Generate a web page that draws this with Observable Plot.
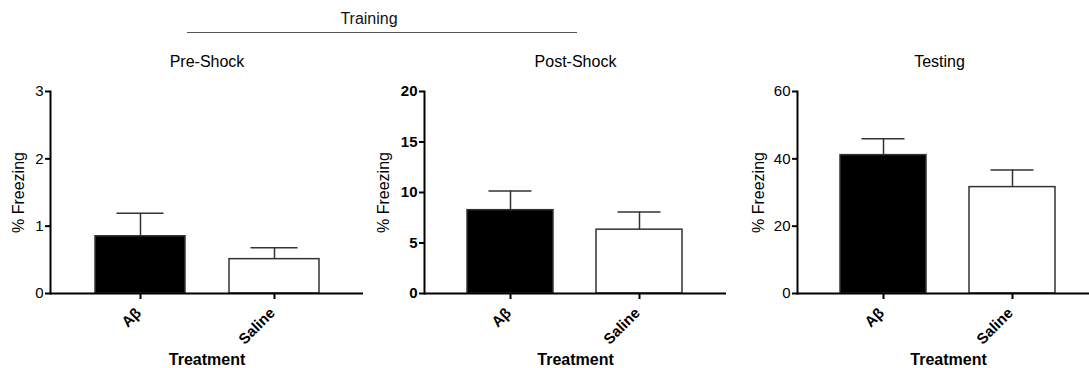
<!DOCTYPE html>
<html>
<head>
<meta charset="utf-8">
<script src="https://cdn.jsdelivr.net/npm/d3@7"></script>
<script src="https://cdn.jsdelivr.net/npm/@observablehq/plot@0.6"></script>
<style>
  html, body { margin: 0; padding: 0; background: #fff; }
  #wrap { position: relative; width: 1089px; height: 368px; overflow: hidden; font-family: "Liberation Sans", Arial, sans-serif; }
  .panel { position: absolute; top: 0; }
  #training { position: absolute; top: 11px; left: 369px; transform: translateX(-50%); font-size: 16px; line-height: 16px; color: #111; }
  #tline { position: absolute; top: 32px; left: 187px; width: 390px; height: 0; border-top: 1.5px solid #555; }
</style>
</head>
<body>
<div id="wrap">
  <div id="training">Training</div>
  <div id="tline"></div>
</div>
<script>
const groups = ["Aβ", "Saline"];
const panelTitles = ["Pre-Shock", "Post-Shock", "Testing"];
const preShockMean = [0.85, 0.51];
const preShockSem = [0.34, 0.17];
const postShockMean = [8.25, 6.32];
const postShockSem = [1.9, 1.75];
const testingMean = [41.1, 31.6];
const testingSem = [4.9, 5.1];
const yMax = [3, 20, 60];
const yTicks = [[0, 1, 2, 3], [0, 5, 10, 15, 20], [0, 20, 40, 60]];
const yLabel = "% Freezing";
const xLabel = "Treatment";

const means = [preShockMean, postShockMean, testingMean];
const sems = [preShockSem, postShockSem, testingSem];

const layout = [
  {left: 0, width: 363, marginLeft: 50, labelDx: -32, boldY: false, titleDx: 0},
  {left: 363, width: 363, marginLeft: 61, labelDx: -41, boldY: true, titleDx: 0},
  {left: 726, width: 373, marginLeft: 71, labelDx: -39, boldY: false, titleDx: -9}
];

const wrap = document.getElementById("wrap");

layout.forEach((L, i) => {
  const data = groups.map((g, j) => ({group: g, mean: means[i][j], sem: sems[i][j]}));
  const chart = Plot.plot({
    width: L.width,
    height: 368,
    marginTop: 91,
    marginBottom: 75,
    marginLeft: L.marginLeft,
    marginRight: 0,
    style: {fontFamily: "'Liberation Sans', Arial, sans-serif", fontSize: "15px", color: "#000", background: "transparent", overflow: "visible"},
    x: {domain: groups, padding: 0.33, label: null},
    y: {domain: [0, yMax[i]], label: null},
    color: {domain: groups, range: ["#000", "#fff"]},
    marks: [
      Plot.barY(data, {x: "group", y: "mean", fill: "group", stroke: "#333", strokeWidth: 1.5}),
      Plot.ruleX(data, {x: "group", y1: "mean", y2: d => d.mean + d.sem, stroke: "#333", strokeWidth: 1.5}),
      Plot.tickY(data, {x: "group", y: d => d.mean + d.sem, insetLeft: 21.5, insetRight: 21.5, stroke: "#333", strokeWidth: 1.5}),
      Plot.axisY({ticks: yTicks[i], tickFormat: d => String(d), tickSize: 5, tickPadding: 2, strokeWidth: 2, fontWeight: L.boldY ? "bold" : "normal", label: null}),
      Plot.frame({anchor: "left", stroke: "#000", strokeWidth: 2}),
      Plot.axisX({tickSize: 6, strokeWidth: 2, text: null, label: null}),
      Plot.axisX({tickSize: 0, tickPadding: 15, tickRotate: -45, fontWeight: "bold", dx: -2, dy: 2, label: null}),
      Plot.ruleY([0], {strokeWidth: 2, stroke: "#000"}),
      Plot.text([yLabel], {text: d => d, frameAnchor: "left", rotate: -90, dx: L.labelDx, textAnchor: "middle", lineAnchor: "middle", fontSize: 16}),
      Plot.text([xLabel], {text: d => d, frameAnchor: "bottom", dy: 66, lineAnchor: "middle", fontSize: 16, fontWeight: "bold"}),
      Plot.text([panelTitles[i]], {text: d => d, frameAnchor: "top", dy: -30, dx: L.titleDx, lineAnchor: "middle", fontSize: 16})
    ]
  });
  chart.classList.add("panel");
  chart.style.left = L.left + "px";
  wrap.appendChild(chart);
});
</script>
</body>
</html>
